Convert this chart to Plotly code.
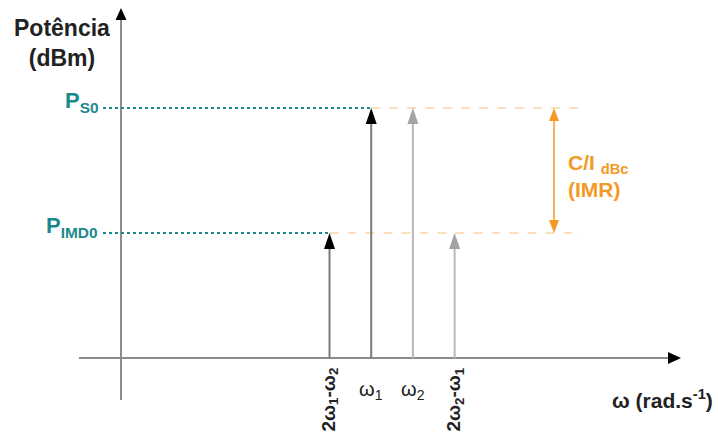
import plotly.graph_objects as go

# ---------------- data ----------------
tone_labels = ["2ω<sub>1</sub>-ω<sub>2</sub>", "ω<sub>1</sub>", "ω<sub>2</sub>", "2ω<sub>2</sub>-ω<sub>1</sub>"]
tone_freq = [5, 6, 7, 8]            # rad/s (ω1 = 6, ω2 = 7)
tone_power = [-30, 0, 0, -30]       # dBm
tone_dark = [True, True, False, False]
tone_rotated = [True, False, False, True]
level_labels = ["P<sub>S0</sub>", "P<sub>IMD0</sub>"]
level_values = [0, -30]             # dBm
floor_dbm = -60                     # power at the frequency axis
y_axis_title = "Potência<br>(dBm)"
x_axis_title = "ω (rad.s<sup>-1</sup>)"
cir_label = "C/I <sub>dBc</sub><br>(IMR)"

# ---------------- layout geometry ----------------
W, H = 718, 439
X0_PX, X_SCALE = 121.0, 41.7        # pixel of freq 0, pixels per rad/s
Y0_PX, Y_SCALE = 108.0, 125.0 / 30  # pixel of 0 dBm, pixels per dB


def x_of(px):
    return (px - X0_PX) / X_SCALE


def y_of(py):
    return (Y0_PX - py) / Y_SCALE


TEAL = "#1c8a8c"
ORANGE = "#f39a26"
ORANGE_LIGHT = "#f6bf7f"
AXIS_GREY = "#8c8c8c"
FONT = "Liberation Sans, Arial, sans-serif"

fig = go.Figure()
# invisible trace to hold the axes
fig.add_trace(go.Scatter(x=tone_freq, y=tone_power, mode="markers",
                         marker=dict(opacity=0), hoverinfo="skip", showlegend=False))

shapes = []


def head(x, y, path, color):
    return dict(type="path", xref="x", yref="y", xsizemode="pixel", ysizemode="pixel",
                xanchor=x, yanchor=y, path=path, fillcolor=color,
                line=dict(width=0), layer="above")


UP = "M0,0 L-5.5,-16 L5.5,-16 Z"

# axes
shapes.append(dict(type="line", xref="x", yref="y", x0=0, x1=0, y0=y_of(400), y1=y_of(18),
                   line=dict(color=AXIS_GREY, width=2)))
shapes.append(head(0, y_of(8), "M0,0 L-5.5,-12 L5.5,-12 Z", "#000000"))
shapes.append(dict(type="line", xref="x", yref="y", x0=x_of(79), x1=x_of(670), y0=floor_dbm, y1=floor_dbm,
                   line=dict(color=AXIS_GREY, width=2)))
shapes.append(head(x_of(681), floor_dbm, "M0,0 L-13,6 L-13,-6 Z", "#000000"))

# reference levels
for lv in level_values:
    first = min(f for f, p in zip(tone_freq, tone_power) if p == lv)
    shapes.append(dict(type="line", xref="x", yref="y", x0=x_of(103), x1=first, y0=lv, y1=lv,
                       line=dict(color=TEAL, width=2, dash="dot")))
    shapes.append(dict(type="line", xref="x", yref="y", x0=first, x1=x_of(582), y0=lv, y1=lv,
                       line=dict(color=ORANGE_LIGHT, width=1, dash="dash")))

# tones
for f, p, dark in zip(tone_freq, tone_power, tone_dark):
    shapes.append(dict(type="line", xref="x", yref="y", x0=f, x1=f, y0=floor_dbm, y1=p - 3,
                       line=dict(color="#7a7a7a" if dark else "#b8b8b8", width=2)))
    shapes.append(head(f, p, UP, "#000000" if dark else "#a3a3a3"))

# C/I double arrow
cx = x_of(554)
shapes.append(dict(type="line", xref="x", yref="y", x0=cx, x1=cx, y0=level_values[0] - 2, y1=level_values[1] + 2,
                   line=dict(color=ORANGE, width=1.5)))
shapes.append(head(cx, level_values[0], "M0,0 L-5,-13 L5,-13 Z", ORANGE))
shapes.append(head(cx, level_values[1], "M0,0 L-5,13 L5,13 Z", ORANGE))

annotations = []
# y-axis title
annotations.append(dict(x=x_of(62), y=y_of(43), xref="x", yref="y", text="<b>" + y_axis_title + "</b>",
                        showarrow=False, font=dict(family=FONT, size=23, color="#222222"),
                        xanchor="center", yanchor="middle"))
# level labels
for lab, lv, right in zip(level_labels, level_values, [101, 99]):
    annotations.append(dict(x=x_of(right), y=lv, xref="x", yref="y", text="<b>" + lab + "</b>",
                            showarrow=False, font=dict(family=FONT, size=22, color=TEAL),
                            xanchor="right", yanchor="middle", yshift=6))
# C/I label
annotations.append(dict(x=x_of(566), y=y_of(176), xref="x", yref="y",
                        text="<b>" + cir_label + "</b>", showarrow=False,
                        font=dict(family=FONT, size=21, color=ORANGE), xanchor="left", yanchor="middle",
                        align="left"))
# x-axis title
annotations.append(dict(x=x_of(715), y=y_of(399), xref="x", yref="y", text="<b>" + x_axis_title + "</b>",
                        showarrow=False, font=dict(family=FONT, size=21, color="#222222"),
                        xanchor="right", yanchor="middle"))
# tone labels
for lab, f, rot in zip(tone_labels, tone_freq, tone_rotated):
    if rot:
        annotations.append(dict(x=f, y=y_of(400), xref="x", yref="y", text="<b>" + lab + "</b>",
                                showarrow=False, textangle=-90,
                                font=dict(family=FONT, size=19, color="#222222"),
                                xanchor="center", yanchor="middle"))
    else:
        annotations.append(dict(x=f, y=y_of(390), xref="x", yref="y", text=lab,
                                showarrow=False, font=dict(family=FONT, size=20, color="#222222"),
                                xanchor="center", yanchor="middle"))

fig.update_layout(
    width=W, height=H, margin=dict(l=0, r=0, t=0, b=0),
    paper_bgcolor="white", plot_bgcolor="white",
    xaxis=dict(range=[x_of(0), x_of(W)], visible=False, fixedrange=True),
    yaxis=dict(range=[y_of(H), y_of(0)], visible=False, fixedrange=True),
    shapes=shapes, annotations=annotations, showlegend=False,
)

fig.write_html("out.html", config=dict(displayModeBar=False),
               post_script="document.body.style.margin='0';document.body.style.overflow='hidden';")
